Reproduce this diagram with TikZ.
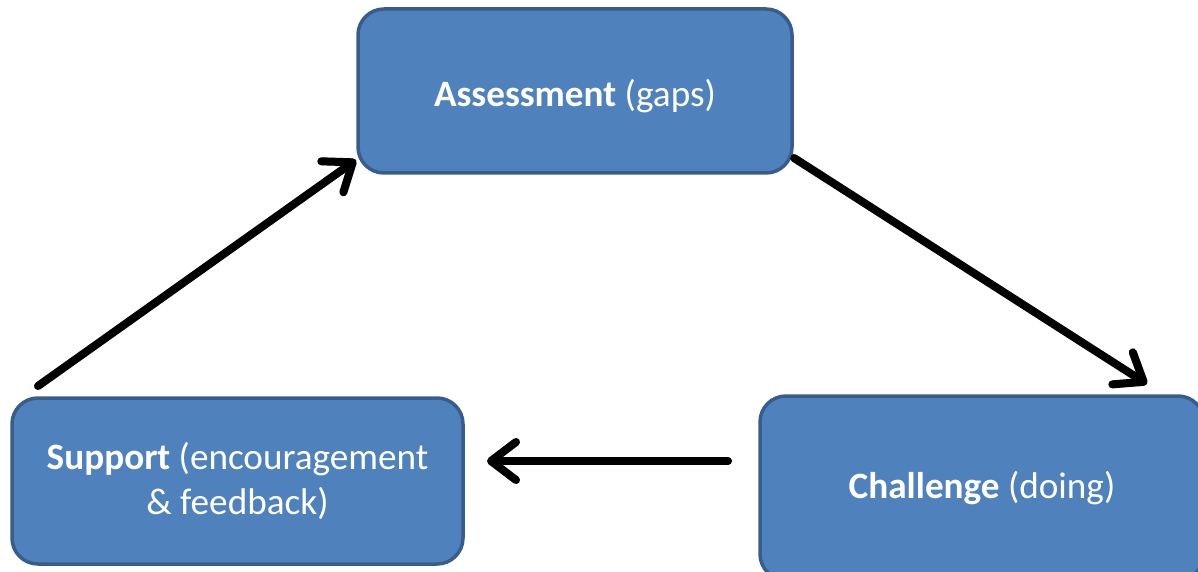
\documentclass[tikz,border=0pt]{standalone}
\usepackage{fontspec}
\setmainfont{Carlito}
\usetikzlibrary{arrows.meta}
\definecolor{boxfill}{HTML}{4F81BD}
\definecolor{boxline}{HTML}{385D8A}
\newcommand{\lowertext}[2]{\vphantom{#2}\smash{\raisebox{-#1}{#2}}}
\tikzset{
  stage/.style={draw=boxline, line width=3.5pt, fill=boxfill, rounded corners=26pt,
    text=white, align=center, inner sep=0pt,
    font=\fontsize{37.2}{45}\selectfont},
  cycarrow/.style={line width=8pt, line cap=round, line join=round,
    -{Straight Barb[length=25pt,width=38pt,line cap=round,line join=round]}},
  cycshadow/.style={cycarrow, draw=black!20}
}
\begin{document}
\begin{tikzpicture}[x=1pt,y=-1pt]
\useasboundingbox (0,0) rectangle (1198,572);
\clip (0,0) rectangle (1198,572);

% the three stages of the cycle
\node[stage, minimum width=434pt, minimum height=164pt] (assess) at (575,91)
  {\lowertext{5pt}{\textbf{Assessment} (gaps)}};
\node[stage, minimum width=444pt, minimum height=184pt] (chall) at (982,488)
  {\textbf{Challenge} (doing)};
\node[stage, minimum width=451pt, minimum height=166pt] (supp) at (237.5,481)
  {\textbf{Support} (encouragement\\ \& feedback)};

% arrow end points beside the boxes
\coordinate (s1) at (38,386);
\coordinate (e1) at (356,160);
\coordinate (s2) at (794,158);
\coordinate (e2) at (1147,384);
\coordinate (s3) at (728,461);
\coordinate (e3) at (487,461);

% soft shadows under the arrows
\begin{scope}[shift={(2,3)}]
  \draw[cycshadow] (s1) -- (e1);
  \draw[cycshadow] (s2) -- (e2);
  \draw[cycshadow] (s3) -- (e3);
\end{scope}

% cycle arrows
\draw[cycarrow] (s1) -- (e1);
\draw[cycarrow] (s2) -- (e2);
\draw[cycarrow] (s3) -- (e3);
\end{tikzpicture}
\end{document}
